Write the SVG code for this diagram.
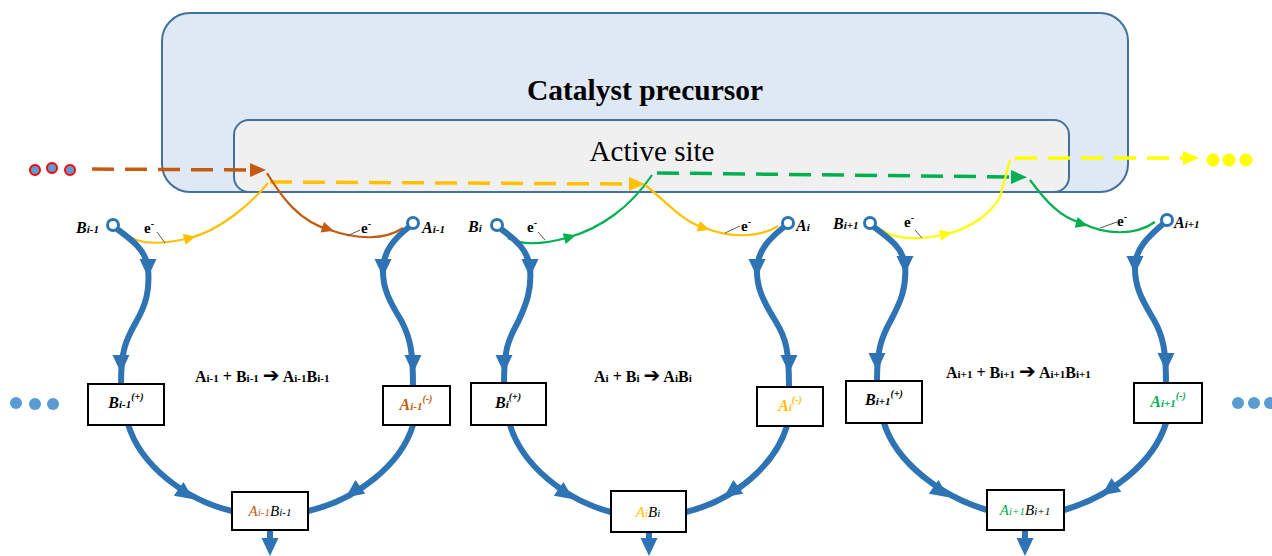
<svg xmlns="http://www.w3.org/2000/svg" width="1272" height="556" viewBox="0 0 1272 556">
  <style>
    .serif { font-family: "Liberation Serif", "Times New Roman", serif; }
    .title { font-size: 29.5px; font-weight: bold; fill: #000; }
    .site { font-size: 29px; fill: #000; }
    .node { font-size: 16px; font-weight: bold; font-style: italic; fill: #000; }
    .sub { font-size: 11px; }
    .sup { font-size: 10px; }
    .rx { font-size: 16px; font-weight: bold; fill: #000; }
    .rxsub { font-size: 11px; }
    .arr { font-family: "DejaVu Sans", sans-serif; font-size: 20px; }
    .elec { font-size: 15px; font-weight: bold; fill: #000; }
    .boxlbl { font-size: 16px; font-weight: bold; font-style: italic; }
    .prod { font-size: 15px; font-style: italic; }
    .box { fill: #fff; stroke: #000; stroke-width: 2; }
    .flow { fill: none; stroke: #2e74b5; stroke-width: 6; }
    .site-pt { fill: #fff; stroke: #2e74b5; stroke-width: 3; }
    .lead { stroke: #595959; stroke-width: 1; fill: none; }
    .ecurve { fill: none; stroke-width: 2.2; }
    .dash { fill: none; stroke-width: 3.5; stroke-dasharray: 22 11; }
  </style>
  <defs>
    <path id="bh" d="M9,0 L-9,-8.5 L-9,8.5 Z" fill="#2e74b5"/>
    <path id="eh" d="M6,0 L-6,-5.5 L-6,5.5 Z"/>
    <marker id="m-brown" markerUnits="userSpaceOnUse" markerWidth="16" markerHeight="14" refX="0" refY="7" orient="auto">
      <path d="M0,0 L16,7 L0,14 Z" fill="#c55a11"/>
    </marker>
    <marker id="m-gold" markerUnits="userSpaceOnUse" markerWidth="16" markerHeight="14" refX="0" refY="7" orient="auto">
      <path d="M0,0 L16,7 L0,14 Z" fill="#ffc000"/>
    </marker>
    <marker id="m-green" markerUnits="userSpaceOnUse" markerWidth="16" markerHeight="14" refX="0" refY="7" orient="auto">
      <path d="M0,0 L16,7 L0,14 Z" fill="#00b050"/>
    </marker>
    <marker id="m-yellow" markerUnits="userSpaceOnUse" markerWidth="16" markerHeight="14" refX="0" refY="7" orient="auto">
      <path d="M0,0 L16,7 L0,14 Z" fill="#ffff00"/>
    </marker>
  </defs>

  <rect width="1272" height="556" fill="#fff"/>

  <!-- catalyst precursor and active site -->
  <g id="catalyst">
    <rect x="162" y="13" width="966" height="179" rx="28" fill="#dee9f5" stroke="#41719c" stroke-width="2"/>
    <text x="645" y="100" text-anchor="middle" class="serif title">Catalyst precursor</text>
  </g>
  <g id="active-site">
    <rect x="234" y="120" width="835" height="72" rx="15" fill="#f0f0f0" stroke="#41719c" stroke-width="2"/>
    <text x="652" y="161" text-anchor="middle" class="serif site">Active site</text>
  </g>

  <!-- continuation dots -->
  <g id="dots-in">
    <circle cx="35" cy="170" r="5" fill="#5b9bd5" stroke="#ff0000" stroke-width="2"/>
    <circle cx="52" cy="168" r="5" fill="#5b9bd5" stroke="#ff0000" stroke-width="2"/>
    <circle cx="70" cy="170" r="5" fill="#5b9bd5" stroke="#ff0000" stroke-width="2"/>
  </g>
  <g id="dots-out">
    <circle cx="1213" cy="160" r="6.5" fill="#ffff00"/>
    <circle cx="1229" cy="160" r="6.5" fill="#ffff00"/>
    <circle cx="1246" cy="160" r="6.5" fill="#ffff00"/>
  </g>
  <g id="dots-left" fill="#5b9bd5">
    <circle cx="16" cy="403" r="6"/>
    <circle cx="35" cy="404" r="6"/>
    <circle cx="53" cy="404" r="6"/>
  </g>
  <g id="dots-right" fill="#5b9bd5">
    <circle cx="1238" cy="403" r="6"/>
    <circle cx="1254" cy="403" r="6"/>
    <circle cx="1270" cy="403" r="6"/>
  </g>

  <g id="connectors">
    <!-- electron transfer through the active site -->
    <path class="dash" stroke="#c55a11" d="M92,169 L250,170" marker-end="url(#m-brown)"/>
    <path class="dash" stroke="#ffc000" d="M270,182 L629,184" marker-end="url(#m-gold)"/>
    <path class="dash" stroke="#00b050" d="M657,173 L1011,177" marker-end="url(#m-green)"/>
    <path class="dash" stroke="#ffff00" d="M1015,158 L1183,158" marker-end="url(#m-yellow)"/>

    <!-- electron curves -->
    <path class="ecurve" stroke="#ffc000" d="M124,233 C138,246 165,244 190,238 C220,230 250,205 268,183"/>
    <use href="#eh" fill="#ffc000" transform="translate(190,238) rotate(-14)"/>
    <path class="ecurve" stroke="#c55a11" d="M267,173 C282,198 300,222 330,230 C358,240 385,240 403,228"/>
    <use href="#eh" fill="#c55a11" transform="translate(328,229) rotate(18)"/>
    <path class="ecurve" stroke="#00b050" d="M508,238 C522,246 545,244 570,237 C600,228 630,208 652,175"/>
    <use href="#eh" fill="#00b050" transform="translate(570,237) rotate(-16)"/>
    <path class="ecurve" stroke="#ffc000" d="M645,185 C665,200 682,222 705,228 C730,238 760,238 778,226"/>
    <use href="#eh" fill="#ffc000" transform="translate(704,228) rotate(18)"/>
    <path class="ecurve" stroke="#ffff00" d="M882,230 C896,240 920,240 947,234 C970,228 990,215 1000,197 L1010,160"/>
    <use href="#eh" fill="#ffff00" transform="translate(946,234) rotate(-12)"/>
    <path class="ecurve" stroke="#00b050" d="M1030,180 C1045,200 1060,218 1082,223 C1105,235 1135,236 1155,222"/>
    <use href="#eh" fill="#00b050" transform="translate(1082,224) rotate(16)"/>

    <!-- e- leader lines -->
    <path class="lead" d="M157,232 L165,243"/>
    <path class="lead" d="M347,236 L360,230"/>
    <path class="lead" d="M538,232 L545,240"/>
    <path class="lead" d="M725,233 L740,226"/>
    <path class="lead" d="M915,230 L922,238"/>
    <path class="lead" d="M1100,228 L1117,222"/>

    <!-- cycle i-1 -->
    <path class="flow" d="M117,229 C132,240 146,250 148,268 C150,290 146,305 136,322 C126,340 121,350 121,383"/>
    <use href="#bh" transform="translate(148,268) rotate(90)"/>
    <use href="#bh" transform="translate(121,364) rotate(90)"/>
    <path class="flow" d="M409,227 C395,238 384,250 383,268 C382,290 392,305 402,322 C410,338 413,350 413,386"/>
    <use href="#bh" transform="translate(383,268) rotate(90)"/>
    <use href="#bh" transform="translate(413,364) rotate(90)"/>
    <path class="flow" d="M128,424 C140,465 185,500 232,511"/>
    <use href="#bh" transform="translate(186,494) rotate(35)"/>
    <path class="flow" d="M413,425 C401,465 356,500 308,511"/>
    <use href="#bh" transform="translate(353,492) rotate(145)"/>
    <path class="flow" d="M270,530 L270,546"/>
    <use href="#bh" transform="translate(270,547) rotate(90)"/>

    <!-- cycle i -->
    <path class="flow" d="M501,229 C516,240 528,250 530,268 C532,290 526,305 518,322 C508,340 504,350 504,383"/>
    <use href="#bh" transform="translate(530,268) rotate(90)"/>
    <use href="#bh" transform="translate(504,364) rotate(90)"/>
    <path class="flow" d="M784,227 C770,238 758,250 757,268 C756,290 766,305 776,322 C786,338 789,350 789,387"/>
    <use href="#bh" transform="translate(757,268) rotate(90)"/>
    <use href="#bh" transform="translate(789,364) rotate(90)"/>
    <path class="flow" d="M510,425 C522,465 565,500 611,512"/>
    <use href="#bh" transform="translate(566,494) rotate(35)"/>
    <path class="flow" d="M787,426 C775,465 735,500 686,512"/>
    <use href="#bh" transform="translate(731,492) rotate(145)"/>
    <path class="flow" d="M649,532 L649,546"/>
    <use href="#bh" transform="translate(649,547) rotate(90)"/>

    <!-- cycle i+1 -->
    <path class="flow" d="M874,227 C889,238 903,248 905,265 C907,288 900,303 891,320 C881,338 877,350 877,381"/>
    <use href="#bh" transform="translate(905,265) rotate(90)"/>
    <use href="#bh" transform="translate(877,362) rotate(90)"/>
    <path class="flow" d="M1163,224 C1149,236 1136,248 1135,265 C1134,288 1144,303 1154,320 C1163,336 1166,350 1166,383"/>
    <use href="#bh" transform="translate(1135,265) rotate(90)"/>
    <use href="#bh" transform="translate(1166,362) rotate(90)"/>
    <path class="flow" d="M884,423 C896,462 940,496 987,510"/>
    <use href="#bh" transform="translate(941,492) rotate(35)"/>
    <path class="flow" d="M1166,423 C1154,462 1112,496 1064,510"/>
    <use href="#bh" transform="translate(1109,490) rotate(145)"/>
    <path class="flow" d="M1025,530 L1025,546"/>
    <use href="#bh" transform="translate(1025,547) rotate(90)"/>
  </g>

  <!-- e- labels -->
  <g id="electron-labels" class="serif elec">
    <text x="144" y="233">e<tspan class="sup" dy="-6">-</tspan></text>
    <text x="361" y="233">e<tspan class="sup" dy="-6">-</tspan></text>
    <text x="527" y="232">e<tspan class="sup" dy="-6">-</tspan></text>
    <text x="741" y="231">e<tspan class="sup" dy="-6">-</tspan></text>
    <text x="904" y="227">e<tspan class="sup" dy="-6">-</tspan></text>
    <text x="1117" y="226">e<tspan class="sup" dy="-6">-</tspan></text>
  </g>

  <!-- surface sites -->
  <g id="site-B-im1">
    <circle class="site-pt" cx="113" cy="225" r="5.5"/>
    <text x="76" y="233" class="serif node">B<tspan class="sub">i-1</tspan></text>
  </g>
  <g id="site-A-im1">
    <circle class="site-pt" cx="413" cy="223" r="5.5"/>
    <text x="422" y="233" class="serif node">A<tspan class="sub">i-1</tspan></text>
  </g>
  <g id="site-B-i">
    <circle class="site-pt" cx="497" cy="225" r="5.5"/>
    <text x="468" y="232" class="serif node">B<tspan class="sub">i</tspan></text>
  </g>
  <g id="site-A-i">
    <circle class="site-pt" cx="788" cy="223" r="5.5"/>
    <text x="796" y="231" class="serif node">A<tspan class="sub">i</tspan></text>
  </g>
  <g id="site-B-ip1">
    <circle class="site-pt" cx="870" cy="223" r="5.5"/>
    <text x="833" y="229" class="serif node">B<tspan class="sub">i+1</tspan></text>
  </g>
  <g id="site-A-ip1">
    <circle class="site-pt" cx="1167" cy="220" r="5.5"/>
    <text x="1174" y="228" class="serif node">A<tspan class="sub">i+1</tspan></text>
  </g>

  <!-- reactions -->
  <g id="reaction-im1">
    <text x="195" y="382" class="serif rx">A<tspan class="rxsub">i-1</tspan> + B<tspan class="rxsub">i-1</tspan> <tspan class="arr">➔</tspan> A<tspan class="rxsub">i-1</tspan>B<tspan class="rxsub">i-1</tspan></text>
  </g>
  <g id="reaction-i">
    <text x="594" y="382" class="serif rx">A<tspan class="rxsub">i</tspan> + B<tspan class="rxsub">i</tspan> <tspan class="arr">➔</tspan> A<tspan class="rxsub">i</tspan>B<tspan class="rxsub">i</tspan></text>
  </g>
  <g id="reaction-ip1">
    <text x="946" y="378" class="serif rx">A<tspan class="rxsub">i+1</tspan> + B<tspan class="rxsub">i+1</tspan> <tspan class="arr">➔</tspan> A<tspan class="rxsub">i+1</tspan>B<tspan class="rxsub">i+1</tspan></text>
  </g>

  <!-- ionised intermediates -->
  <g id="B-im1-plus">
    <rect class="box" x="88" y="384" width="76" height="41"/>
    <text x="126" y="408" text-anchor="middle" class="serif boxlbl" fill="#000">B<tspan class="sub">i-1</tspan><tspan class="sup" dy="-8">(+)</tspan></text>
  </g>
  <g id="A-im1-minus">
    <rect class="box" x="383" y="386" width="67" height="39"/>
    <text x="416" y="410" text-anchor="middle" class="serif boxlbl" fill="#c55a11">A<tspan class="sub">i-1</tspan><tspan class="sup" dy="-8">(-)</tspan></text>
  </g>
  <g id="B-i-plus">
    <rect class="box" x="471" y="383" width="75" height="42"/>
    <text x="508" y="408" text-anchor="middle" class="serif boxlbl" fill="#000">B<tspan class="sub">i</tspan><tspan class="sup" dy="-8">(+)</tspan></text>
  </g>
  <g id="A-i-minus">
    <rect class="box" x="757" y="387" width="66" height="39"/>
    <text x="790" y="411" text-anchor="middle" class="serif boxlbl" fill="#ffc000">A<tspan class="sub">i</tspan><tspan class="sup" dy="-8">(-)</tspan></text>
  </g>
  <g id="B-ip1-plus">
    <rect class="box" x="846" y="381" width="76" height="42"/>
    <text x="884" y="405" text-anchor="middle" class="serif boxlbl" fill="#000">B<tspan class="sub">i+1</tspan><tspan class="sup" dy="-8">(+)</tspan></text>
  </g>
  <g id="A-ip1-minus">
    <rect class="box" x="1134" y="383" width="68" height="40"/>
    <text x="1168" y="407" text-anchor="middle" class="serif boxlbl" fill="#00b050">A<tspan class="sub">i+1</tspan><tspan class="sup" dy="-8">(-)</tspan></text>
  </g>

  <!-- products -->
  <g id="AB-im1">
    <rect class="box" x="232" y="492" width="76" height="38"/>
    <text x="270" y="516" text-anchor="middle" class="serif prod"><tspan fill="#c55a11">A<tspan class="sub">i-1</tspan></tspan><tspan fill="#000">B<tspan class="sub">i-1</tspan></tspan></text>
  </g>
  <g id="AB-i">
    <rect class="box" x="611" y="491" width="75" height="41"/>
    <text x="648" y="517" text-anchor="middle" class="serif prod"><tspan fill="#ffc000">A<tspan class="sub">i</tspan></tspan><tspan fill="#000">B<tspan class="sub">i</tspan></tspan></text>
  </g>
  <g id="AB-ip1">
    <rect class="box" x="987" y="490" width="77" height="40"/>
    <text x="1025" y="515" text-anchor="middle" class="serif prod"><tspan fill="#00b050">A<tspan class="sub">i+1</tspan></tspan><tspan fill="#000">B<tspan class="sub">i+1</tspan></tspan></text>
  </g>
</svg>
